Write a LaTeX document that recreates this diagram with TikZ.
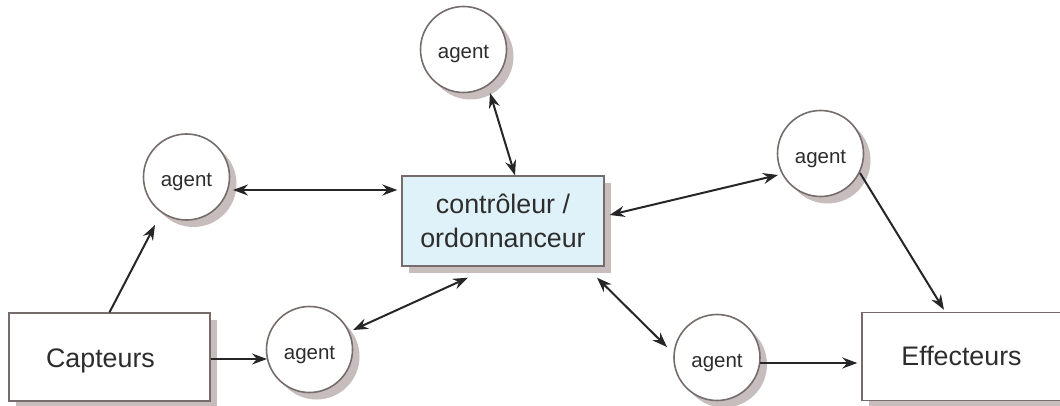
\documentclass[tikz,border=0pt]{standalone}
\usepackage{fontspec}
\setmainfont{Liberation Sans}
\usetikzlibrary{shadows,arrows.meta,calc}
\definecolor{bordercol}{RGB}{118,108,108}
\definecolor{shadowcol}{RGB}{200,189,189}
\definecolor{textcol}{RGB}{45,45,45}
\definecolor{arrowcol}{RGB}{38,38,40}
\definecolor{ctrlfill}{RGB}{224,242,249}
\newcommand{\lowered}[2]{\raisebox{-#1}[0pt][0pt]{#2}}
\tikzset{
  shad/.style={drop shadow={shadow xshift=7pt,shadow yshift=-7pt,fill=shadowcol,opacity=1}},
  agentnode/.style={circle,draw=bordercol,line width=1.6pt,fill=white,minimum size=86pt,inner sep=0pt,
    text=textcol,font=\fontsize{20.5}{24}\selectfont,shad},
  boxnode/.style={rectangle,draw=bordercol,line width=1.4pt,fill=white,inner sep=0pt,
    text=textcol,font=\fontsize{26.8}{34}\selectfont,shad,align=center},
  conn/.style={draw=arrowcol,line width=2pt,-{Stealth[length=15pt,width=11pt,inset=5pt]}},
  biconn/.style={draw=arrowcol,line width=2pt,{Stealth[length=15pt,width=11pt,inset=5pt]}-{Stealth[length=15pt,width=11pt,inset=5pt]}}
}
\begin{document}
\begin{tikzpicture}[x=1pt,y=-1pt]
\useasboundingbox[fill=white] (0,0) rectangle (1060,406);
% boxes
\node[boxnode,fill=ctrlfill,minimum width=202pt,minimum height=90pt] (ctrl) at (503,221) {contrôleur /\\ordonnanceur};
\node[boxnode,minimum width=201pt,minimum height=88pt] (capt) at (109.5,357) {\lowered{10pt}{Capteurs}\hspace*{18pt}};
\node[boxnode,minimum width=199pt,minimum height=88pt] (eff) at (961.5,356.5) {\lowered{9pt}{Effecteurs}};
% agents
\node[agentnode] (aT) at (463.5,49.5) {\lowered{9pt}{agent}};
\node[agentnode] (aL) at (186.5,177) {\lowered{10pt}{agent}};
\node[agentnode] (aBL) at (309.5,349.5) {\lowered{10pt}{agent}};
\node[agentnode] (aR) at (820.5,153.5) {\lowered{10pt}{agent}};
\node[agentnode] (aBR) at (717,357.5) {\lowered{10pt}{agent}};
% connectors
\draw[biconn] ($(aT)+(26.5,43.5)$) -- ($(ctrl.north)+(12,0)$);
\draw[biconn] ($(aL)+(46.5,13)$) -- ($(ctrl.west)+(-4,-31)$);
\draw[conn] (capt.north) -- ($(aL)+(-31.5,48)$);
\draw[conn] ($(capt.east)+(0,2)$) -- ($(aBL)+(-42.5,9.5)$);
\draw[biconn] ($(aBL)+(43.5,-19.5)$) -- ($(ctrl.south)+(-35,11)$);
\draw[biconn] ($(ctrl.east)+(5,-6)$) -- ($(aR)+(-42.5,21.5)$);
\draw[biconn] ($(ctrl.south)+(94,11)$) -- ($(aBR)+(-50,-10.5)$);
\draw[conn] ($(aR)+(39.5,19.5)$) -- ($(eff.north)+(-17.5,-2)$);
\draw[conn] ($(aBR)+(43,5.5)$) -- ($(eff.west)+(-4,6.5)$);
\end{tikzpicture}
\end{document}
